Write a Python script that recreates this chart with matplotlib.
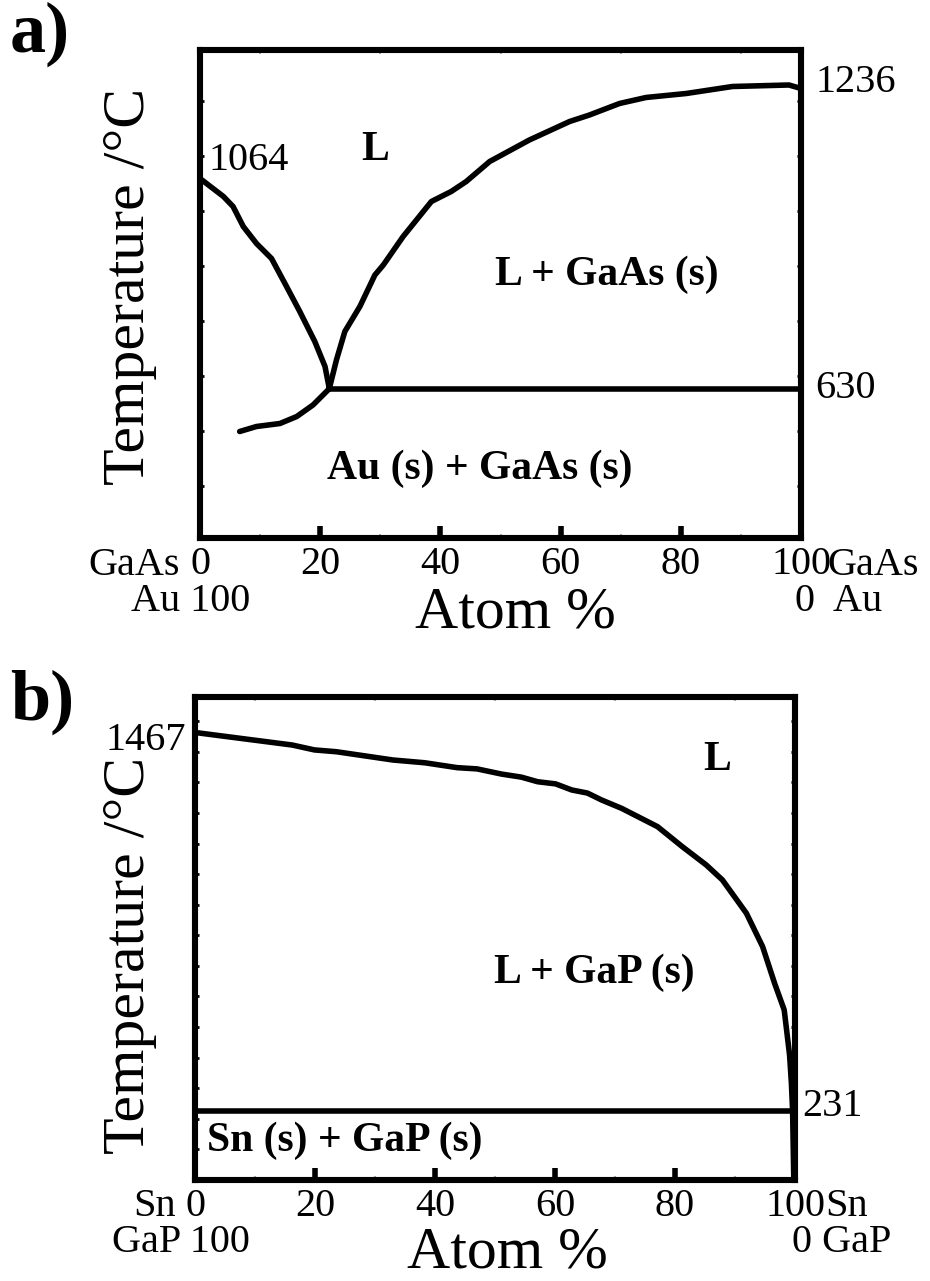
import numpy as np
import matplotlib
matplotlib.use("Agg")
import matplotlib.pyplot as plt
from matplotlib.ticker import FixedLocator

plt.rcParams['font.family'] = ['Liberation Serif', 'DejaVu Serif']

# ---------------- data ----------------
# Panel a: Au - GaAs
a_liq_au_x = [0.0, 3.9, 5.5, 7.2, 9.4, 11.9, 14.4, 16.6, 19.1, 20.8, 21.5]
a_liq_au_t = [1051, 1015, 995, 955, 921, 891, 835, 785, 725, 675, 632]
a_sol_au_x = [6.6, 9.4, 13.3, 16.1, 18.8, 21.3, 21.5]
a_sol_au_t = [545, 555, 561, 575, 598, 628, 630]
a_liq_gaas_x = [21.5, 22.7, 24.1, 26.6, 29.1, 30.5, 33.8, 38.5, 41.8, 44.3, 48.2,
                54.8, 61.5, 64.8, 69.8, 74.2, 80.9, 88.6, 98.0, 100.0]
a_liq_gaas_t = [630, 688, 745, 795, 858, 878, 935, 1005, 1025, 1045, 1085,
                1128, 1165, 1178, 1201, 1213, 1221, 1235, 1238, 1231]
a_eut_x = [21.5, 100.0]
a_eut_t = [630, 630]

# Panel b: Sn - GaP
b_liq_x = [0.0, 7.5, 16.2, 19.9, 23.6, 33.0, 38.3, 43.7, 47.0, 51.1, 54.4, 57.1,
           60.1, 62.8, 65.4, 67.8, 71.1, 77.1, 81.2, 85.2, 87.9, 91.9, 94.6,
           96.6, 98.2, 99.1, 99.4, 99.6, 99.8]
b_liq_t = [1467, 1448, 1426, 1410, 1404, 1377, 1368, 1352, 1348, 1331, 1321, 1306,
           1299, 1279, 1269, 1246, 1219, 1159, 1094, 1034, 985, 876, 767,
           647, 560, 412, 320, 231, 4]
b_eut_x = [0.0, 99.6]
b_eut_t = [231, 231]

x_major = [0, 20, 40, 60, 80, 100]
x_major_labels = ['0', '20', '40', '60', '80', '100']

# ---------------- figure ----------------
W, H = 930, 1281
fig = plt.figure(figsize=(W / 100, H / 100), dpi=100)


def rect(l, t, r, b):
    return [l / W, 1 - b / H, (r - l) / W, (b - t) / H]


def ftext(x, y, s, **kw):
    fig.text(x / W, 1 - y / H, s, **kw)


LW_SPINE = 4.4
LW_CURVE = 4.0
TICK_FS = 29
LABEL_FS = 43
REGION_FS = 30


def style_axes(ax, ylim, yminor):
    ax.set_xlim(0, 100)
    ax.set_ylim(*ylim)
    for sp in ax.spines.values():
        sp.set_linewidth(LW_SPINE)
        sp.set_capstyle('projecting')
    ax.xaxis.set_major_locator(FixedLocator(x_major))
    ax.set_xticklabels(x_major_labels, fontsize=TICK_FS)
    ax.xaxis.set_minor_locator(FixedLocator([10, 30, 50, 70, 90]))
    ax.yaxis.set_major_locator(FixedLocator([]))
    ax.yaxis.set_minor_locator(FixedLocator(yminor))
    ax.tick_params(axis='x', which='major', direction='in', length=9, width=4,
                   pad=6, top=False)
    ax.tick_params(axis='x', which='minor', direction='in', length=3, width=1.2,
                   color='#999999', top=True)
    ax.tick_params(axis='y', which='minor', direction='in', length=3, width=2,
                   left=True, right=True)
    ax.set_yticklabels([])


# ---------------- panel a ----------------
axa = fig.add_axes(rect(200, 50, 801, 538))
style_axes(axa, (332, 1308), list(np.arange(437, 1300, 110)))
axa.plot(a_liq_au_x, a_liq_au_t, color='black', lw=LW_CURVE, solid_capstyle='round')
axa.plot(a_sol_au_x, a_sol_au_t, color='black', lw=LW_CURVE, solid_capstyle='round')
axa.plot(a_liq_gaas_x, a_liq_gaas_t, color='black', lw=LW_CURVE, solid_capstyle='round')
axa.plot(a_eut_x, a_eut_t, color='black', lw=LW_CURVE)

axa.text(29.1, 1108, 'L', fontsize=REGION_FS, fontweight='bold', ha='center', va='center')
axa.text(67.7, 858, 'L + GaAs (s)', fontsize=REGION_FS, fontweight='bold',
         ha='center', va='center')
axa.text(46.6, 470, 'Au (s) + GaAs (s)', fontsize=REGION_FS, fontweight='bold',
         ha='center', va='center')

ftext(208, 160, '1064', fontsize=TICK_FS, ha='left', va='center')
ftext(815, 83, '1236', fontsize=TICK_FS, ha='left', va='center')
ftext(815, 388, '630', fontsize=TICK_FS, ha='left', va='center')
ftext(180, 565, 'GaAs', fontsize=TICK_FS, ha='right', va='center')
ftext(827, 565, 'GaAs', fontsize=TICK_FS, ha='left', va='center')
ftext(250, 601, 'Au 100', fontsize=TICK_FS, ha='right', va='center')
ftext(795, 601, '0  Au', fontsize=TICK_FS, ha='left', va='center')
ftext(515, 614, 'Atom %', fontsize=LABEL_FS, ha='center', va='center')
ftext(130, 286, 'Temperature /°C', fontsize=LABEL_FS, ha='center', va='center',
      rotation=90)
ftext(10, 34, 'a)', fontsize=52, fontweight='bold', ha='left', va='center')

# ---------------- panel b ----------------
axb = fig.add_axes(rect(195, 697, 795, 1180))
style_axes(axb, (4, 1583), list(np.arange(4, 1583, 100)))
axb.plot(b_liq_x, b_liq_t, color='black', lw=LW_CURVE, solid_capstyle='round')
axb.plot(b_eut_x, b_eut_t, color='black', lw=LW_CURVE)

axb.text(87.0, 1377, 'L', fontsize=REGION_FS, fontweight='bold', ha='center', va='center')
axb.text(66.5, 681, 'L + GaP (s)', fontsize=REGION_FS, fontweight='bold',
         ha='center', va='center')
axb.text(2.0, 131, 'Sn (s) + GaP (s)', fontsize=REGION_FS, fontweight='bold',
         ha='left', va='center')

ftext(186, 740, '1467', fontsize=TICK_FS, ha='right', va='center')
ftext(802, 1107, '231', fontsize=TICK_FS, ha='left', va='center')
ftext(176, 1207, 'Sn', fontsize=TICK_FS, ha='right', va='center')
ftext(825, 1207, 'Sn', fontsize=TICK_FS, ha='left', va='center')
ftext(250, 1243, 'GaP 100', fontsize=TICK_FS, ha='right', va='center')
ftext(792, 1243, '0 GaP', fontsize=TICK_FS, ha='left', va='center')
ftext(507, 1253, 'Atom %', fontsize=LABEL_FS, ha='center', va='center')
ftext(130, 955, 'Temperature /°C', fontsize=LABEL_FS, ha='center', va='center',
      rotation=90)
ftext(10, 702, 'b)', fontsize=52, fontweight='bold', ha='left', va='center')

fig.savefig('out.png', dpi=100, facecolor='white')
